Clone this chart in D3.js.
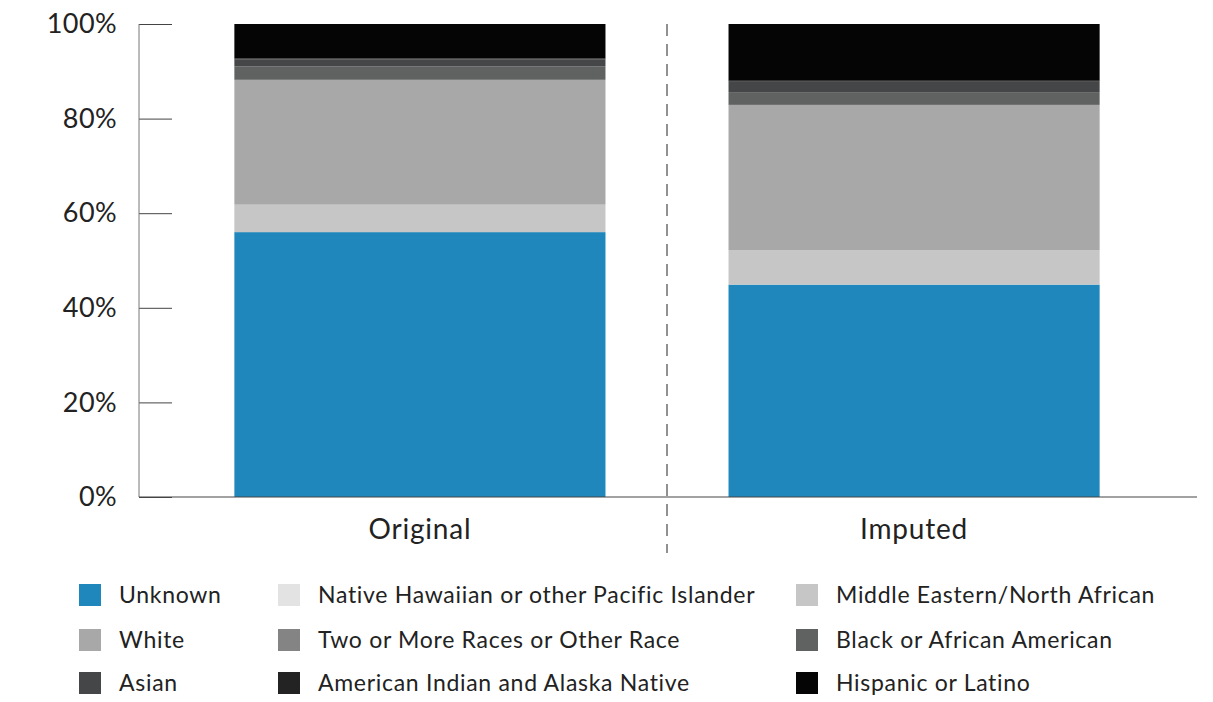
<!DOCTYPE html>
<html>
<head>
<meta charset="utf-8">
<script src="https://cdn.jsdelivr.net/npm/d3@7"></script>
<style>
  body { margin: 0; background: #fff; }
  svg { display: block; font-family: Lato, "Open Sans", sans-serif; }
</style>
</head>
<body>
<svg id="chart" width="1213" height="702"></svg>
<script>
'use strict';

// categories on the x axis
const groups = ['Original', 'Imputed'];

// series, bottom of the stack first
const series = [
    'Unknown',
    'Native Hawaiian or other Pacific Islander',
    'Middle Eastern/North African',
    'White',
    'Two or More Races or Other Race',
    'Black or African American',
    'Asian',
    'American Indian and Alaska Native',
    'Hispanic or Latino'
];

// shares in percent, same order as series
const originalValues = [56.0, 0.0, 5.8, 26.4, 0.0, 2.8, 1.5, 0.2, 7.3];
const imputedValues = [44.9, 0.0, 7.3, 30.7, 0.0, 2.7, 2.2, 0.2, 12.0];

const colors = ['#1f87bc', '#e3e3e3', '#c6c6c6', '#a8a8a8', '#848484', '#606161', '#454648', '#232323', '#050505'];

// legend laid out row by row
const legendOrder = [
    'Unknown', 'Native Hawaiian or other Pacific Islander', 'Middle Eastern/North African',
    'White', 'Two or More Races or Other Race', 'Black or African American',
    'Asian', 'American Indian and Alaska Native', 'Hispanic or Latino'
];

const yTicks = [0, 20, 40, 60, 80, 100];

// build rows for the stack
const rows = groups.map((g, i) => {
    const vals = i === 0 ? originalValues : imputedValues;
    const row = { group: g };
    series.forEach((s, j) => { row[s] = vals[j]; });
    return row;
});

const svg = d3.select('#chart');

const x = d3.scaleBand()
    .domain(groups)
    .range([138, 1196])
    .paddingInner(0.249)
    .paddingOuter(0.195);

const y = d3.scaleLinear()
    .domain([0, 100])
    .range([497, 24]);

const color = d3.scaleOrdinal().domain(series).range(colors);

const stacked = d3.stack().keys(series)(rows);

// bars
svg.append('g')
    .selectAll('g')
    .data(stacked)
    .join('g')
    .attr('fill', d => color(d.key))
    .selectAll('rect')
    .data(d => d)
    .join('rect')
    .attr('x', d => x(d.data.group))
    .attr('width', x.bandwidth())
    .attr('y', d => y(d[1]))
    .attr('height', d => y(d[0]) - y(d[1]));

// y axis
const yAxis = svg.append('g')
    .attr('transform', 'translate(139,0)')
    .call(d3.axisRight(y).tickValues(yTicks).tickSize(33).tickFormat(d => d + '%'));

yAxis.select('.domain').remove();
yAxis.selectAll('.tick line').attr('stroke', '#444').attr('stroke-width', 1);
yAxis.selectAll('.tick text')
    .attr('x', -22)
    .attr('text-anchor', 'end')
    .attr('fill', '#222')
    .style('font-size', '27px')
    .style('letter-spacing', '0.4px')
    .style('font-family', 'Lato, sans-serif');

svg.append('line')
    .attr('x1', 139).attr('x2', 139)
    .attr('y1', y(100)).attr('y2', y(0))
    .attr('stroke', '#777').attr('stroke-width', 1);

// baseline
svg.append('line')
    .attr('x1', 139).attr('x2', 1197)
    .attr('y1', y(0)).attr('y2', y(0))
    .attr('stroke', '#444').attr('stroke-width', 1);

// x labels
svg.append('g')
    .selectAll('text')
    .data(groups)
    .join('text')
    .attr('x', d => x(d) + x.bandwidth() / 2)
    .attr('y', 539)
    .attr('text-anchor', 'middle')
    .attr('fill', '#222')
    .style('font-size', '28px')
    .style('letter-spacing', '0.8px')
    .text(d => d);

// dashed divider between the bars
const midX = (x(groups[0]) + x.bandwidth() + x(groups[1])) / 2;
svg.append('line')
    .attr('x1', midX).attr('x2', midX)
    .attr('y1', y(100)).attr('y2', 553)
    .attr('stroke', '#222')
    .attr('stroke-width', 1)
    .attr('stroke-dasharray', '12,8');

// legend
const legendCols = [79, 278, 796];
const legendRows = [584, 629, 672];

const legend = svg.append('g')
    .selectAll('g')
    .data(legendOrder)
    .join('g')
    .attr('transform', (d, i) => `translate(${legendCols[i % 3]},${legendRows[Math.floor(i / 3)]})`);

legend.append('rect')
    .attr('width', 22)
    .attr('height', 22)
    .attr('fill', d => color(d));

legend.append('text')
    .attr('x', 40)
    .attr('y', 11)
    .attr('dy', '0.35em')
    .attr('fill', '#222')
    .style('font-size', '23px')
    .style('letter-spacing', '0.7px')
    .text(d => d);
</script>
</body>
</html>
